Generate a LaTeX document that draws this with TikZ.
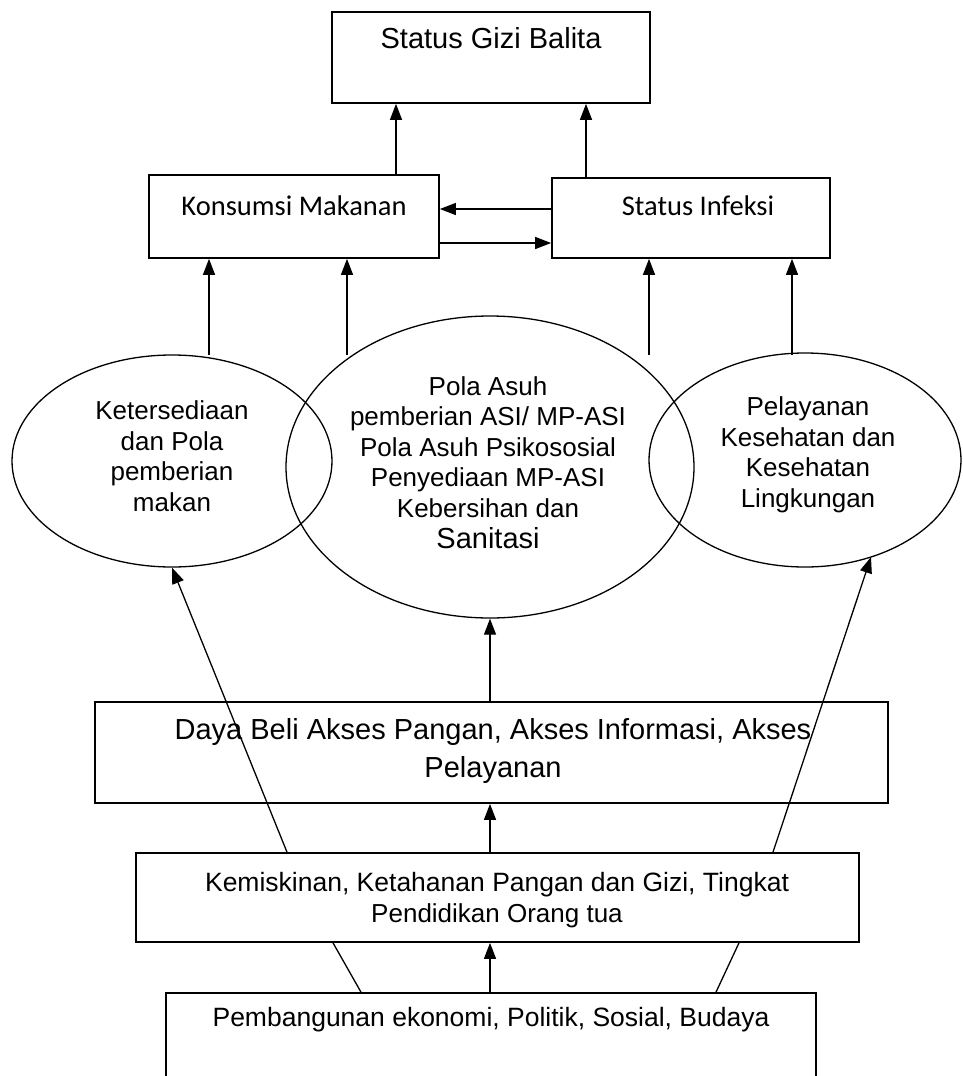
\documentclass[tikz,border=0pt]{standalone}
\usepackage{fontspec}
\setmainfont{Liberation Sans}
\newfontfamily\calib{Carlito}
\usetikzlibrary{arrows.meta,shapes.geometric}
\begin{document}
\begin{tikzpicture}[x=1pt,y=-1pt,
  box/.style={draw,line width=1.7pt,rectangle,inner sep=0pt},
  ell/.style={draw,line width=1.3pt,ellipse,inner sep=0pt},
  arr/.style={line width=1.3pt,-{Triangle[length=16pt,width=12pt]}},
  ln/.style={line width=1.3pt},
  big/.style={font=\fontsize{29}{38}\selectfont,align=center,inner sep=0pt},
  mid/.style={font=\fontsize{26}{30.5}\selectfont,align=center,inner sep=0pt},
  cal/.style={font=\calib\fontsize{28.5}{34}\selectfont,inner sep=0pt},
]
\clip (0,0) rectangle (963,1076);
\fill[white] (0,0) rectangle (963,1076);

% boxes
\node[box,minimum width=318pt,minimum height=91pt] (gizi) at (491,57.5) {};
\node[big] (gizit) at (491,38) {Status Gizi Balita};

\node[box,minimum width=290pt,minimum height=83pt] (kons) at (294,216.5) {};
\node[cal] (konst) at (294,206) {Konsumsi Makanan};

\node[box,minimum width=278pt,minimum height=80pt] (inf) at (691,218) {};
\node[cal] (inft) at (698,206) {Status Infeksi};

% ellipses
\node[ell,minimum width=320pt,minimum height=212pt] (le) at (172,461) {};
\node[mid] (let) at (172,456) {Ketersediaan\\dan Pola\\pemberian\\makan};

\node[ell,minimum width=408pt,minimum height=302pt] (me) at (490,467) {};
\node[mid] (met) at (488,447) {Pola Asuh\\pemberian ASI/ MP-ASI\\Pola Asuh Psikososial\\Penyediaan MP-ASI\\Kebersihan dan};
\node[big] (met2) at (488,538) {Sanitasi};

\node[ell,minimum width=312pt,minimum height=214pt] (re) at (805,460) {};
\node[mid] (ret) at (808,455) {Pelayanan\\Kesehatan dan\\Kesehatan\\Lingkungan};

% lower boxes
\node[box,minimum width=793pt,minimum height=101pt] (daya) at (491.5,752.5) {};
\node[big] (dayat) at (493,751) {Daya Beli Akses Pangan, Akses Informasi, Akses\\Pelayanan};

% connectors
\coordinate (xa) at (396,0);
\coordinate (xb) at (586,0);
\coordinate (ya) at (0,209);
\coordinate (yb) at (0,243);
\coordinate (l1) at (209,355);
\coordinate (l2) at (347,355);
\coordinate (l3) at (649,355);
\coordinate (l4) at (792,355);
\coordinate (dl) at (287,0);
\coordinate (dr) at (773,0);
\coordinate (rtip) at (871,557);
\coordinate (pl1) at (361,0);
\coordinate (pl2) at (333,0);
\coordinate (pr1) at (716,0);
\coordinate (pr2) at (739,0);

\draw[arr] (kons.north -| xa) -- (gizi.south -| xa);
\draw[arr] (inf.north -| xb) -- (gizi.south -| xb);
\draw[arr] (inf.west |- ya) -- (kons.east |- ya);
\draw[arr] (kons.east |- yb) -- (inf.west |- yb);
\draw[arr] (l1) -- (kons.south -| l1);
\draw[arr] (l2) -- (kons.south -| l2);
\draw[arr] (l3) -- (inf.south -| l3);
\draw[arr] (l4) -- (inf.south -| l4);

\node[box,minimum width=723pt,minimum height=89pt] (kem) at (497.5,897.5) {};
\node[box,minimum width=650pt,minimum height=110pt] (pem) at (491,1048) {};

\draw[arr] (daya.north -| me.south) -- (me.south);
\draw[arr] (kem.north -| me.south) -- (daya.south -| me.south);
\draw[arr] (pem.north -| me.south) -- (kem.south -| me.south);
\draw[arr] (kem.north -| dl) -- (le.south);
\draw[arr] (kem.north -| dr) -- (rtip);
\draw[ln] (pem.north -| pl1) -- (kem.south -| pl2);
\draw[ln] (pem.north -| pr1) -- (kem.south -| pr2);

\node[mid] (kemt) at (497,900) {\fontsize{26.5}{34}\selectfont Kemiskinan, Ketahanan Pangan dan Gizi, Tingkat\\Pendidikan Orang tua};
\node[mid] (pemt) at (491,1020) {\fontsize{26.5}{30}\selectfont Pembangunan ekonomi, Politik, Sosial, Budaya};
\end{tikzpicture}
\end{document}
